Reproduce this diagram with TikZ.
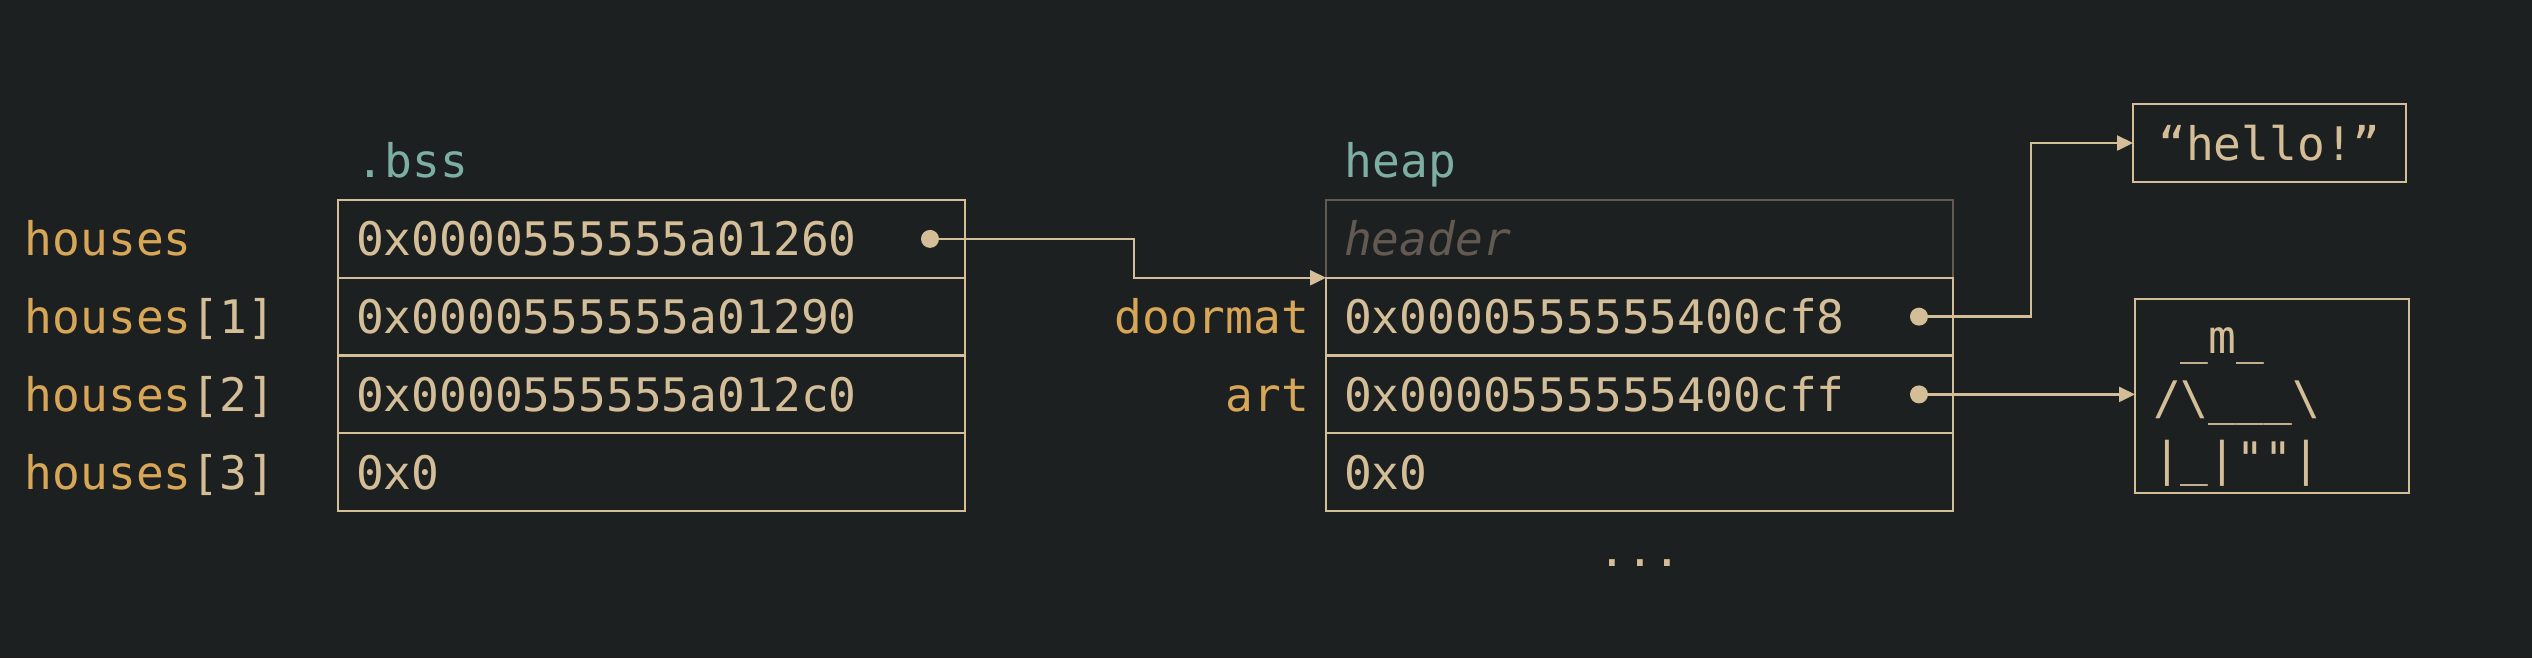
\documentclass[tikz,border=0pt]{standalone}
\usepackage{fontspec}
\setmonofont{DejaVu Sans Mono}
\usetikzlibrary{arrows.meta,positioning}

\definecolor{bg}{HTML}{1D2021}
\definecolor{fg}{HTML}{D4BE98}
\definecolor{varname}{HTML}{D8A657}
\definecolor{section}{HTML}{7DAEA3}
\definecolor{dim}{HTML}{625A52}

\tikzset{
  mono/.style={font=\ttfamily\fontsize{11.55pt}{15.25pt}\selectfont},
  cell/.style={mono, draw=fg, text=fg, line width=0.6pt, anchor=north west,
    minimum height=19.4375pt, text width=147.75pt, inner xsep=4.5pt, inner ysep=0pt,
    outer sep=0pt, align=left, text height=8.43pt, text depth=0pt},
  hdrcell/.style={cell, draw=dim, text=dim, font=\ttfamily\itshape\fontsize{11.55pt}{15.25pt}\selectfont},
  varlabel/.style={mono, text=varname, inner sep=0pt, text height=8.43pt, text depth=0pt},
  heading/.style={mono, text=section, anchor=base west, inner sep=0pt},
  box/.style={mono, draw=fg, text=fg, line width=0.6pt, outer sep=0pt},
  wire/.style={draw=fg, line width=0.6pt, -{Triangle[length=4pt,width=3.75pt]}}
}

\begin{document}
\begin{tikzpicture}[x=0.25pt,y=-0.25pt]
  \fill[bg] (0,0) rectangle (2532,658);

  % .bss
  \node[heading] (bss) at (356,177) {.bss};
  \node[cell] (b0) at (338,200) {0x0000555555a01260};
  \node[cell, below=0pt of b0] (b1) {0x0000555555a01290};
  \node[cell, below=0pt of b1] (b2) {0x0000555555a012c0};
  \node[cell, below=0pt of b2] (b3) {0x0};
  \node[varlabel, anchor=west] (l0) at (24,0 |- b0.west) {houses};
  \node[varlabel, anchor=west] (l1) at (24,0 |- b1.west) {houses\textcolor{fg}{[1]}};
  \node[varlabel, anchor=west] (l2) at (24,0 |- b2.west) {houses\textcolor{fg}{[2]}};
  \node[varlabel, anchor=west] (l3) at (24,0 |- b3.west) {houses\textcolor{fg}{[3]}};

  % heap
  \node[heading] (heap) at (1344,177) {heap};
  \node[hdrcell] (h0) at (1326,200) {header};
  \node[cell, below=0pt of h0] (h1) {0x0000555555400cf8};
  \node[cell, below=0pt of h1] (h2) {0x0000555555400cff};
  \node[cell, below=0pt of h2] (h3) {0x0};
  \node[varlabel, anchor=east] (ldoor) at (1310,0 |- h1.east) {doormat};
  \node[varlabel, anchor=east] (lart) at (1310,0 |- h2.east) {art};
  \node[mono, text=fg, anchor=base, inner sep=0pt] (more) at (1640,566) {...};

  % pointed-to objects
  \node[box, minimum width=68.25pt, minimum height=19.5pt] (hello) at (2269.5,143) {“hello!”};
  \node[box, minimum width=68.5pt, minimum height=48.5pt, text width=59.5pt,
    inner xsep=4.5pt, align=left, text height=9pt, text depth=30.5pt] (art) at (2272,396)
    {\hphantom{\_}\_m\_\\/\textbackslash\_\_\_\textbackslash\\|\_|""|};

  % pointers
  \coordinate (d0) at (930,0 |- b0.east);
  \coordinate (d1) at (1919,0 |- h1.east);
  \coordinate (d2) at (1919,0 |- h2.east);
  \fill[fg] (d0) circle[radius=2.25pt];
  \fill[fg] (d1) circle[radius=2.25pt];
  \fill[fg] (d2) circle[radius=2.25pt];
  \draw[wire] (d0) -- ++(204,0) |- (h1.north west);
  \draw[wire] (d1) -- ++(112,0) |- (hello.west);
  \draw[wire] (d2) -- (d2 -| art.west);
\end{tikzpicture}
\end{document}
